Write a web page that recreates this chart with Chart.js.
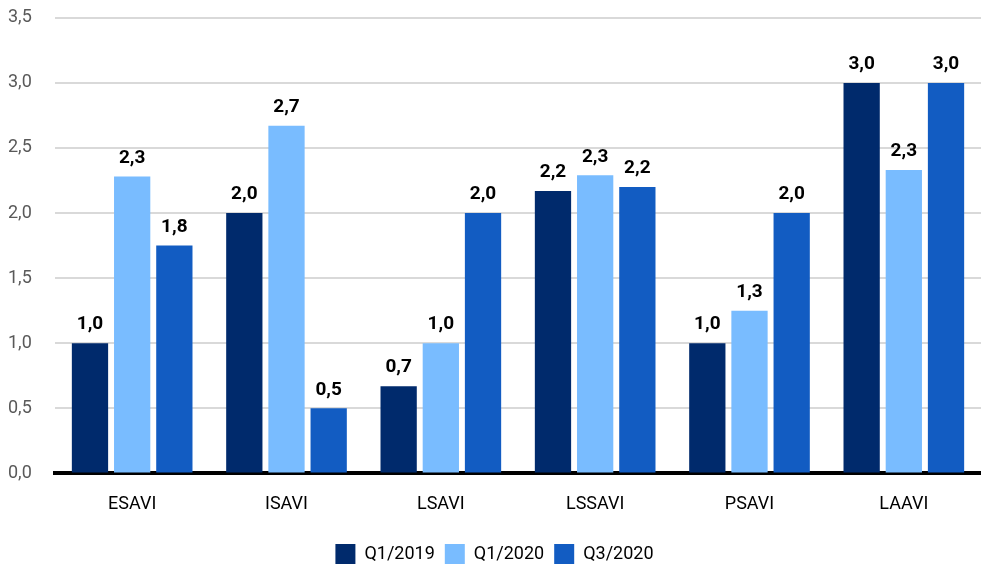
<!DOCTYPE html>
<html>
<head>
<meta charset="utf-8">
<script src="https://cdn.jsdelivr.net/npm/chart.js@4/dist/chart.umd.min.js"></script>
<style>
  html, body { margin: 0; padding: 0; background: #fff; }
  #wrap { width: 981px; height: 567px; }
</style>
</head>
<body>
<div id="wrap"><canvas id="grafico"></canvas></div>
<script>
const categorias = ["ESAVI", "ISAVI", "LSAVI", "LSSAVI", "PSAVI", "LAAVI"];
const q1_2019 = [1.0, 2.0, 0.67, 2.17, 1.0, 3.0];
const q1_2020 = [2.28, 2.67, 1.0, 2.29, 1.25, 2.33];
const q3_2020 = [1.75, 0.5, 2.0, 2.2, 2.0, 3.0];
const yTicks = [0, 0.5, 1, 1.5, 2, 2.5, 3, 3.5];

const fonte = "Roboto, 'DejaVu Sans', sans-serif";
const virgula = (v, casas) => v.toFixed(casas).replace(".", ",");

// rótulos de valor em cima de cada barra
const rotulos = {
  id: "rotulos",
  afterDatasetsDraw(chart) {
    const ctx = chart.ctx;
    ctx.save();
    ctx.font = "bold 19px " + fonte;
    ctx.fillStyle = "#000";
    ctx.textAlign = "center";
    ctx.textBaseline = "bottom";
    chart.data.datasets.forEach((ds, i) => {
      chart.getDatasetMeta(i).data.forEach((bar, j) => {
        ctx.fillText(virgula(ds.data[j], 1), bar.x, bar.y - 9);
      });
    });
    ctx.restore();
  }
};

new Chart(document.getElementById("grafico"), {
  type: "bar",
  data: {
    labels: categorias,
    datasets: [
      { label: "Q1/2019", data: q1_2019, backgroundColor: "#002a6c" },
      { label: "Q1/2020", data: q1_2020, backgroundColor: "#79bcff" },
      { label: "Q3/2020", data: q3_2020, backgroundColor: "#125cc2" }
    ]
  },
  options: {
    responsive: true,
    maintainAspectRatio: false,
    animation: false,
    barPercentage: 0.86,
    categoryPercentage: 0.82,
    layout: { padding: { left: 8, right: 0, top: 5, bottom: -7 } },
    plugins: {
      tooltip: { enabled: false },
      legend: {
        position: "bottom",
        labels: {
          boxWidth: 20, boxHeight: 20, padding: 10,
          color: "#000",
          font: { family: fonte, size: 18 }
        }
      }
    },
    scales: {
      x: {
        grid: { display: false },
        border: { color: "#000", width: 4 },
        ticks: { color: "#000", padding: 12, font: { family: fonte, size: 18 } },
        // espaço vazio entre os rótulos e a legenda
        title: { display: true, text: " ", font: { size: 5 }, padding: { top: 0, bottom: 1 } }
      },
      y: {
        min: 0, max: 3.5,
        afterBuildTicks: (axis) => { axis.ticks = yTicks.map((v) => ({ value: v })); },
        afterFit: (axis) => { axis.width = 47; },
        grid: { color: "#d9d9d9", lineWidth: 2, drawTicks: false },
        border: { display: false },
        ticks: {
          color: "#595959", padding: 7, crossAlign: "far",
          font: { family: fonte, size: 18 },
          callback: (v) => virgula(v, 1)
        }
      }
    }
  },
  plugins: [rotulos]
});
</script>
</body>
</html>
